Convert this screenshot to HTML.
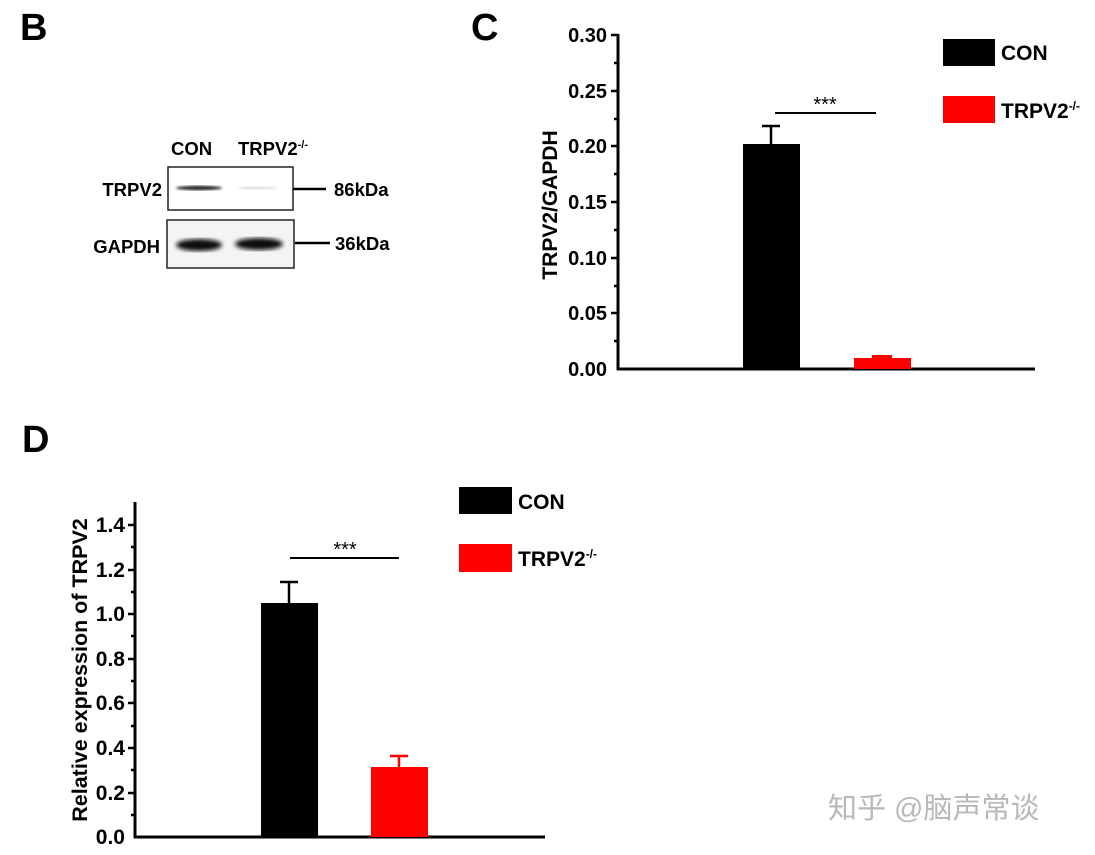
<!DOCTYPE html>
<html><head><meta charset="utf-8"><style>
body{margin:0;background:#fff;}
svg{display:block;font-family:"Liberation Sans",Arial,sans-serif;font-weight:bold;}
</style></head><body>
<svg width="1095" height="855" viewBox="0 0 1095 855" xmlns="http://www.w3.org/2000/svg">
<defs><filter id="bl"><feGaussianBlur stdDeviation="2.2"/></filter><filter id="bl2"><feGaussianBlur stdDeviation="1.2"/></filter></defs>
<!-- Panel letters -->
<text x="20" y="40" font-size="38">B</text>
<text x="471" y="40" font-size="38">C</text>
<text x="22" y="452" font-size="38">D</text>

<!-- Blot B -->
<text x="171" y="155" font-size="18.5">CON</text>
<text x="238" y="155" font-size="18.5">TRPV2<tspan font-size="11" dy="-7">-/-</tspan></text>
<text x="162" y="196" font-size="18.5" text-anchor="end">TRPV2</text>
<text x="160" y="253" font-size="18.5" text-anchor="end">GAPDH</text>
<rect x="168" y="167" width="125" height="43" fill="#fff" stroke="#222" stroke-width="1.5"/>
<ellipse cx="199" cy="188" rx="23" ry="2.2" fill="#222" filter="url(#bl2)"/>
<ellipse cx="258" cy="188" rx="20" ry="1.5" fill="#ddd" filter="url(#bl2)"/>
<rect x="167" y="220" width="127" height="48" fill="#f4f4f4" stroke="#222" stroke-width="1.5"/>
<ellipse cx="199" cy="245" rx="23" ry="6" fill="#111" filter="url(#bl)"/>
<ellipse cx="259" cy="244" rx="24" ry="6" fill="#111" filter="url(#bl)"/>
<line x1="293" y1="189" x2="326" y2="189" stroke="#000" stroke-width="2.5"/>
<line x1="295" y1="243" x2="330" y2="243" stroke="#000" stroke-width="2.5"/>
<text x="334" y="196" font-size="18.5">86kDa</text>
<text x="335" y="250" font-size="18.5">36kDa</text>

<!-- Chart C -->
<g stroke="#000" stroke-width="3" fill="none">
<line x1="618" y1="34" x2="618" y2="370"/>
<line x1="617" y1="369" x2="1035" y2="369"/>
</g>
<g stroke="#000" stroke-width="2.5">
<line x1="611" y1="35" x2="618" y2="35"/><line x1="611" y1="91" x2="618" y2="91"/><line x1="611" y1="146" x2="618" y2="146"/>
<line x1="611" y1="202" x2="618" y2="202"/><line x1="611" y1="258" x2="618" y2="258"/><line x1="611" y1="313" x2="618" y2="313"/>
<line x1="614" y1="63" x2="618" y2="63"/><line x1="614" y1="119" x2="618" y2="119"/><line x1="614" y1="174" x2="618" y2="174"/>
<line x1="614" y1="230" x2="618" y2="230"/><line x1="614" y1="286" x2="618" y2="286"/><line x1="614" y1="341" x2="618" y2="341"/>
</g>
<g font-size="20" text-anchor="end">
<text x="607" y="42">0.30</text><text x="607" y="98">0.25</text><text x="607" y="153">0.20</text>
<text x="607" y="209">0.15</text><text x="607" y="265">0.10</text><text x="607" y="320">0.05</text><text x="607" y="376">0.00</text>
</g>
<text transform="translate(557,205) rotate(-90)" font-size="21" text-anchor="middle">TRPV2/GAPDH</text>
<line x1="771" y1="144" x2="771" y2="126" stroke="#000" stroke-width="2.5"/>
<line x1="762" y1="126" x2="780" y2="126" stroke="#000" stroke-width="2.5"/>
<rect x="743" y="144" width="57" height="225" fill="#000"/>
<rect x="854" y="358" width="57" height="11" fill="#f00"/>
<rect x="872" y="355" width="20" height="4" fill="#f00"/>
<line x1="775" y1="113" x2="876" y2="113" stroke="#000" stroke-width="2"/>
<text x="825" y="111" font-size="20" text-anchor="middle" font-weight="normal">***</text>
<rect x="943" y="39" width="52" height="27" fill="#000"/>
<rect x="943" y="96" width="52" height="27" fill="#f00"/>
<text x="1001" y="60" font-size="21">CON</text>
<text x="1001" y="118" font-size="21">TRPV2<tspan font-size="12" dy="-8">-/-</tspan></text>

<!-- Chart D -->
<g stroke="#000" stroke-width="3" fill="none">
<line x1="135" y1="502" x2="135" y2="838"/>
<line x1="134" y1="837" x2="545" y2="837"/>
</g>
<g stroke="#000" stroke-width="2.5">
<line x1="128" y1="525" x2="135" y2="525"/><line x1="128" y1="570" x2="135" y2="570"/><line x1="128" y1="614" x2="135" y2="614"/>
<line x1="128" y1="659" x2="135" y2="659"/><line x1="128" y1="703" x2="135" y2="703"/><line x1="128" y1="748" x2="135" y2="748"/><line x1="128" y1="793" x2="135" y2="793"/>
<line x1="131" y1="547" x2="135" y2="547"/><line x1="131" y1="592" x2="135" y2="592"/><line x1="131" y1="636" x2="135" y2="636"/>
<line x1="131" y1="681" x2="135" y2="681"/><line x1="131" y1="726" x2="135" y2="726"/><line x1="131" y1="770" x2="135" y2="770"/><line x1="131" y1="815" x2="135" y2="815"/>
</g>
<g font-size="21" text-anchor="end">
<text x="125" y="532">1.4</text><text x="125" y="577">1.2</text><text x="125" y="621">1.0</text>
<text x="125" y="666">0.8</text><text x="125" y="710">0.6</text><text x="125" y="755">0.4</text><text x="125" y="800">0.2</text><text x="125" y="844">0.0</text>
</g>
<text transform="translate(87,670) rotate(-90)" font-size="21.5" text-anchor="middle">Relative expression of TRPV2</text>
<line x1="289" y1="603" x2="289" y2="582" stroke="#000" stroke-width="2.5"/>
<line x1="280" y1="582" x2="298" y2="582" stroke="#000" stroke-width="2.5"/>
<rect x="261" y="603" width="57" height="234" fill="#000"/>
<line x1="399" y1="768" x2="399" y2="756" stroke="#f00" stroke-width="2.5"/>
<line x1="390" y1="756" x2="408" y2="756" stroke="#f00" stroke-width="2.5"/>
<rect x="371" y="767" width="57" height="70" fill="#f00"/>
<line x1="290" y1="558" x2="399" y2="558" stroke="#000" stroke-width="2"/>
<text x="345" y="556" font-size="20" text-anchor="middle" font-weight="normal">***</text>
<rect x="459" y="487" width="53" height="27" fill="#000"/>
<rect x="459" y="544" width="53" height="28" fill="#f00"/>
<text x="518" y="509" font-size="21">CON</text>
<text x="518" y="566" font-size="21">TRPV2<tspan font-size="12" dy="-8">-/-</tspan></text>

<text x="828" y="818" font-size="29" font-weight="normal" fill="#b8b8b8" style="font-family:'Liberation Sans','Noto Sans CJK SC',sans-serif">知乎 @脑声常谈</text>
</svg>
</body></html>
